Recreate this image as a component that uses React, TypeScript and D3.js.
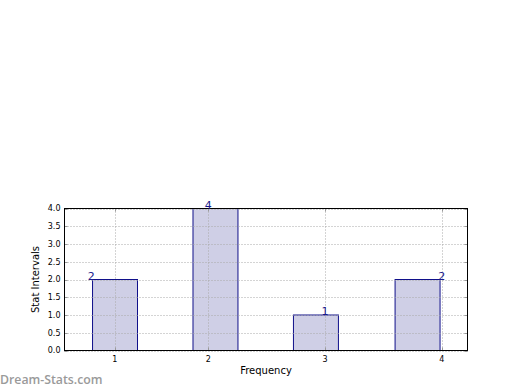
import React from "react";
import * as d3 from "d3";

const categories = ["1", "2", "3", "4"];
const values = [2, 4, 1, 2];
const barLefts = [1.01, 1.87, 2.73, 3.6];
const barWidth = 0.385;
const tickPositions = [1.2, 2, 3, 4];
const labelPositions = [1, 2, 3, 4];
const yTicks = [0, 0.5, 1, 1.5, 2, 2.5, 3, 3.5, 4];

const W = 520;
const H = 390;
const left = 64.5;
const right = 467.5;
const top = 208.5;
const bottom = 350.5;
const FONT = "'DejaVu Sans', sans-serif";

export default function App() {
  const x = d3.scaleLinear().domain([0.77, 4.22]).range([left, right]);
  const y = d3.scaleLinear().domain([0, 4]).range([bottom, top]);
  const grid = "#a8a8a8";
  return (
    <svg width={W} height={H} style={{ position: "absolute", left: 0, top: 0, background: "#fff" }}>
      <rect x={0} y={0} width={W} height={H} fill="#fff" />
      {values.map((v, i) => (
        <rect
          key={"b" + i}
          x={x(barLefts[i])}
          y={y(v)}
          width={x(barLefts[i] + barWidth) - x(barLefts[i])}
          height={y(0) - y(v)}
          fill="#cfcfe6"
          stroke="#10108a"
          strokeWidth={1}
        />
      ))}
      {yTicks.map((t, i) => (
        <g key={"yg" + i}>
          <line x1={left} x2={right} y1={Math.round(y(t)) + 0.5} y2={Math.round(y(t)) + 0.5} stroke={grid} strokeDasharray="1,2" strokeWidth={1} />
          <line x1={left} x2={left + 3} y1={Math.round(y(t)) + 0.5} y2={Math.round(y(t)) + 0.5} stroke="#999" />
          <line x1={right - 3} x2={right} y1={Math.round(y(t)) + 0.5} y2={Math.round(y(t)) + 0.5} stroke="#999" />
          <text x={left - 4} y={y(t)} dy="0.35em" textAnchor="end" fontSize={8} fontFamily={FONT} fill="#000">
            {t.toFixed(1)}
          </text>
        </g>
      ))}
      {tickPositions.map((p, i) => (
        <g key={"xg" + i}>
          <line x1={Math.round(x(p)) + 0.5} x2={Math.round(x(p)) + 0.5} y1={top} y2={bottom} stroke={grid} strokeDasharray="1,2" strokeWidth={1} />
          <line x1={Math.round(x(p)) + 0.5} x2={Math.round(x(p)) + 0.5} y1={bottom - 3} y2={bottom} stroke="#999" />
          <line x1={Math.round(x(p)) + 0.5} x2={Math.round(x(p)) + 0.5} y1={top} y2={top + 3} stroke="#999" />
          <text x={x(p)} y={bottom + 11} textAnchor="middle" fontSize={8} fontFamily={FONT} fill="#000">
            {categories[i]}
          </text>
        </g>
      ))}
      <rect x={left} y={top} width={right - left} height={bottom - top} fill="none" stroke="#000" strokeWidth={1} />
      {values.map((v, i) => (
        <text key={"l" + i} x={x(labelPositions[i])} y={y(v)} textAnchor="middle" fontSize={11} fontFamily={FONT} fill="#1a1a8c">
          {v}
        </text>
      ))}
      <text x={(left + right) / 2} y={373.5} textAnchor="middle" fontSize={10} fontFamily={FONT} fill="#000">
        Frequency
      </text>
      <text
        transform={`translate(${39},${(top + bottom) / 2}) rotate(-90)`}
        textAnchor="middle"
        fontSize={10}
        fontFamily={FONT}
        fill="#000"
      >
        Stat Intervals
      </text>
      <text x={0} y={383.5} fontSize={12.3} fontWeight={600} fontFamily="'Open Sans', sans-serif" fill="#9a9a9a">
        Dream-Stats.com
      </text>
    </svg>
  );
}
